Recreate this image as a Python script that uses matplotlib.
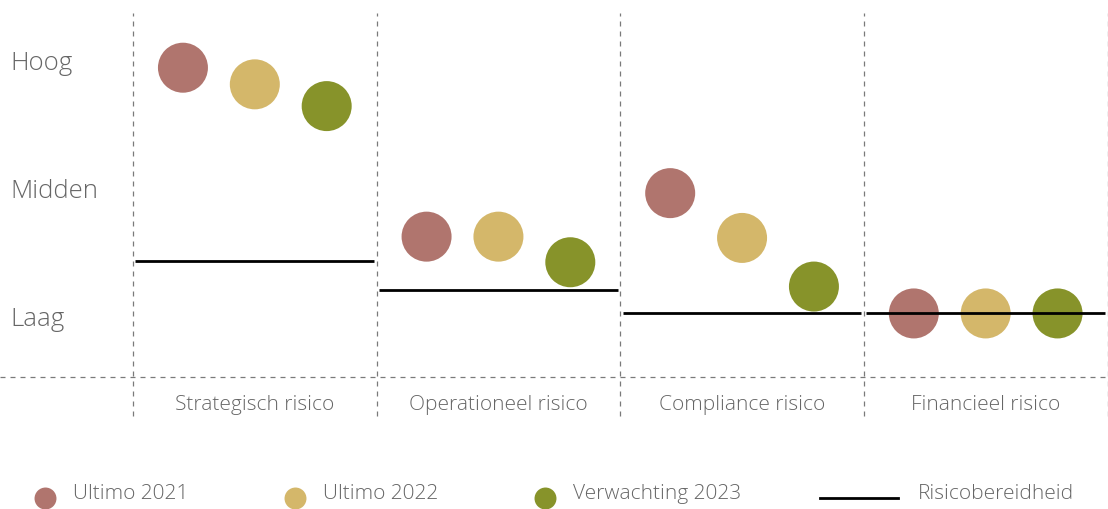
import matplotlib
matplotlib.use("Agg")
import matplotlib.pyplot as plt
from matplotlib.lines import Line2D

plt.rcParams['font.family'] = ['Open Sans', 'DejaVu Sans']

# ---- data ----
categories = ["Strategisch risico", "Operationeel risico", "Compliance risico", "Financieel risico"]
level_labels = ["Laag", "Midden", "Hoog"]
level_values = [1, 2, 3]
series_names = ["Ultimo 2021", "Ultimo 2022", "Verwachting 2023"]
ultimo_2021 = [2.94, 1.62, 1.96, 1.02]
ultimo_2022 = [2.81, 1.62, 1.61, 1.02]
verwachting_2023 = [2.64, 1.42, 1.23, 1.02]
risicobereidheid = [1.43, 1.20, 1.02, 1.02]

# ---- style ----
colors = ["#b0756e", "#d4b76a", "#87932a"]
text_color = "#666666"
grid_color = "#7a7a7a"
offsets = [-0.295, 0.0, 0.295]

W, H = 1108, 509
fig = plt.figure(figsize=(W / 100, H / 100), dpi=100)
left_px, right_px, top_px, bottom_px = 133, 1107.5, 0, 377
ax = fig.add_axes([left_px / W, 1 - bottom_px / H, (right_px - left_px) / W, (bottom_px - top_px) / H])
ax.set_xlim(-0.5, len(categories) - 0.5)
ax.set_ylim(0.5234, 3.469)

series = [ultimo_2021, ultimo_2022, verwachting_2023]
x = list(range(len(categories)))
for vals, c, off in zip(series, colors, offsets):
    ax.scatter([xi + off for xi in x], vals, s=36 ** 2, color=c, edgecolors='none', zorder=2)

for xi, v in zip(x, risicobereidheid):
    ax.hlines(v, xi - 0.49, xi + 0.49, color="black", lw=2.0, zorder=3)

# dashed grid lines
ax_h = bottom_px - top_px
for b in [i - 0.5 for i in range(len(categories) + 1)]:
    ax.axvline(b, ymin=-(416 - bottom_px) / ax_h, ymax=(bottom_px - 13) / ax_h,
               color=grid_color, lw=0.9, ls=(0, (4, 4)), clip_on=False, zorder=1)
ax.axhline(0.5234, xmin=-left_px / (right_px - left_px), xmax=1.0, color=grid_color,
           lw=0.9, ls=(0, (4, 4)), clip_on=False, zorder=1)

for s in ax.spines.values():
    s.set_visible(False)

ax.set_yticks(level_values)
ax.set_yticklabels(level_labels, fontsize=18.5, color=text_color, fontweight='light')
ax.tick_params(axis='y', length=0, pad=(left_px - 10) * 0.72)
for t in ax.get_yticklabels():
    t.set_horizontalalignment('left')

ax.set_xticks(x)
ax.set_xticklabels(categories, fontsize=15, color=text_color, fontweight='light')
ax.tick_params(axis='x', length=0, pad=13)

# legend (manual layout)
lax = fig.add_axes([0, 0, 1, 1])
lax.set_xlim(0, W)
lax.set_ylim(H, 0)
lax.axis('off')
leg_x = [45, 295, 545]
for name, c, lx in zip(series_names, colors, leg_x):
    lax.add_line(Line2D([lx], [498], marker='o', markersize=15.8, color=c, markeredgewidth=0, ls='none'))
    lax.text(lx + 28, 494, name, fontsize=15, color=text_color, va='center', ha='left', fontweight='light')
lax.add_line(Line2D([820, 898], [497.5, 497.5], color='black', lw=2.0))
lax.text(918, 494, "Risicobereidheid", fontsize=15, color=text_color, va='center', ha='left', fontweight='light')

fig.savefig("out.png", dpi=100)
